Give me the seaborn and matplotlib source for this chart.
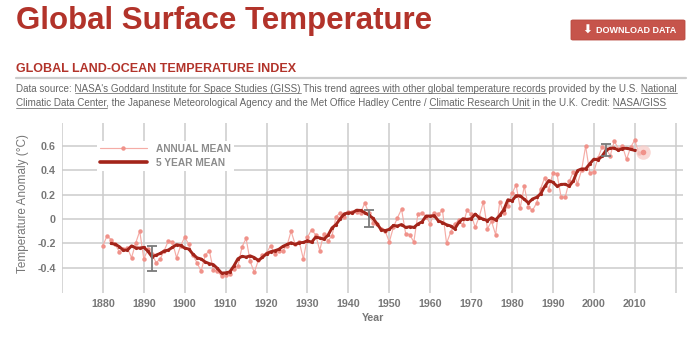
import numpy as np
import pandas as pd
import matplotlib
matplotlib.use("Agg")
import matplotlib.pyplot as plt
import seaborn as sns
from matplotlib.lines import Line2D
from matplotlib.patches import FancyBboxPatch

# ---------------- data ----------------
years = list(range(1880, 2013))
annual = [
    -0.22, -0.14, -0.17, -0.21, -0.27, -0.25, -0.24, -0.32, -0.20, -0.10,   # 1880s
    -0.33, -0.25, -0.29, -0.36, -0.33, -0.26, -0.18, -0.19, -0.32, -0.22,   # 1890s
    -0.15, -0.21, -0.30, -0.36, -0.43, -0.30, -0.26, -0.42, -0.43, -0.47,   # 1900s
    -0.46, -0.45, -0.41, -0.39, -0.23, -0.16, -0.35, -0.44, -0.34, -0.30,   # 1910s
    -0.28, -0.22, -0.29, -0.26, -0.26, -0.22, -0.10, -0.21, -0.19, -0.33,   # 1920s
    -0.15, -0.09, -0.13, -0.26, -0.12, -0.18, -0.14, 0.02, 0.05, 0.02,      # 1930s
    0.06, 0.06, 0.06, 0.05, 0.13, 0.05, -0.03, -0.04, -0.08, -0.10,         # 1940s
    -0.19, -0.07, 0.01, 0.08, -0.12, -0.13, -0.19, 0.04, 0.05, 0.02,        # 1950s
    -0.04, 0.05, 0.04, 0.07, -0.20, -0.11, -0.04, -0.01, -0.05, 0.07,       # 1960s
    0.04, -0.07, 0.02, 0.14, -0.08, -0.02, -0.13, 0.14, 0.05, 0.11,         # 1970s
    0.21, 0.28, 0.09, 0.27, 0.10, 0.07, 0.13, 0.25, 0.34, 0.24,             # 1980s
    0.38, 0.37, 0.18, 0.18, 0.31, 0.39, 0.29, 0.40, 0.60, 0.38,             # 1990s
    0.39, 0.50, 0.59, 0.58, 0.52, 0.64, 0.58, 0.60, 0.49, 0.59,             # 2000s
    0.65, 0.54, 0.55,                                                       # 2010-2012
]
err_years = [1892, 1945, 2003]
err_centers = [-0.325, 0.005, 0.57]
err_half = [0.10, 0.07, 0.05]

x_grid = list(range(1870, 2021, 10))
x_labels = [str(y) if 1880 <= y <= 2010 else "" for y in x_grid]
y_ticks = [-0.4, -0.2, 0.0, 0.2, 0.4, 0.6]
y_labels = ["-0.4", "-0.2", "0", "0.2", "0.4", "0.6"]
legend_labels = ["ANNUAL MEAN", "5 YEAR MEAN"]

df = pd.DataFrame({"Year": years, "Anomaly": annual})
df["Mean5"] = df["Anomaly"].rolling(5, center=True).mean()

# ---------------- style ----------------
sns.set_theme(style="whitegrid")
plt.rcParams['font.family'] = ['Liberation Sans', 'DejaVu Sans']

RED = "#b2332a"
GRAY = "#777777"
ANN_LINE = "#f5aca6"
ANN_MK = "#f0928a"
MEAN5 = "#a3241a"

W, H = 700, 339
fig = plt.figure(figsize=(W / 100, H / 100), dpi=100)
fig.patch.set_facecolor("white")


def fx(px):
    return px / W


def fy(py):
    return 1 - py / H


renderer = fig.canvas.get_renderer()


def text_w(s, **kw):
    t = fig.text(0, 0, s + "|", **kw)
    w = t.get_window_extent(renderer).width
    t.remove()
    t2 = fig.text(0, 0, "|", **kw)
    w2 = t2.get_window_extent(renderer).width
    t2.remove()
    return w - w2


# ---------------- header ----------------
fig.text(fx(16), fy(29.5), "Global Surface Temperature", fontsize=22.5,
         fontweight="bold", color=RED, va="baseline", ha="left")

# download button
fig.patches.append(FancyBboxPatch((fx(571), fy(40)), fx(114), 20 / H,
                                  boxstyle="round,pad=0,rounding_size=0.003",
                                  transform=fig.transFigure, facecolor="#c6544b",
                                  edgecolor="#b9493f", linewidth=0.6))
fig.text(fx(582), fy(30.5), "⬇", fontsize=8.5, fontweight="bold",
         family=["DejaVu Sans"], color="white", ha="left", va="center")
fig.text(fx(596), fy(30.5), "DOWNLOAD DATA", fontsize=6.5, fontweight="bold",
         color="white", ha="left", va="center")

# subtitle (fit to width)
sub = "GLOBAL LAND-OCEAN TEMPERATURE INDEX"
w8 = text_w(sub, fontsize=8, fontweight="bold")
sub_size = 8 * 280 / w8
fig.text(fx(16), fy(71.7), sub, fontsize=sub_size, fontweight="bold",
         color=RED, va="baseline", ha="left")
fig.add_artist(Line2D([fx(16), fx(686)], [fy(78), fy(78)], transform=fig.transFigure,
                      color="#cccccc", lw=1.6))

# data source lines with underlined links
line1 = [("Data source: ", False), ("NASA's Goddard Institute for Space Studies (GISS)", True),
         (" This trend ", False), ("agrees with other global temperature records", True),
         (" provided by the U.S. ", False), ("National", True)]
line2 = [("Climatic Data Center", True),
         (", the Japanese Meteorological Agency and the Met Office Hadley Centre / ", False),
         ("Climatic Research Unit", True), (" in the U.K. Credit: ", False), ("NASA/GISS", True)]

full1 = "".join(s for s, _ in line1)
w7 = text_w(full1, fontsize=7)
src_size = 7 * 665 / w7


def draw_line(segs, base_y):
    full = "".join(s for s, _ in segs)
    fig.text(fx(16), fy(base_y), full, fontsize=src_size, color="#666666",
             va="baseline", ha="left")
    prefix = ""
    for s, u in segs:
        if u:
            x0 = 16 + (text_w(prefix, fontsize=src_size) if prefix else 0)
            x1 = 16 + text_w(prefix + s, fontsize=src_size)
            fig.add_artist(Line2D([fx(x0), fx(x1)], [fy(base_y + 1.6)] * 2,
                                  transform=fig.transFigure, color="#777777", lw=0.6))
        prefix += s


draw_line(line1, 91.5)
draw_line(line2, 106)

# ---------------- chart ----------------
ax = fig.add_axes([fx(62), fy(293), fx(683) - fx(62), fy(123) - fy(293)])
ax.set_facecolor("white")

sns.lineplot(data=df, x="Year", y="Anomaly", ax=ax, color=ANN_LINE, lw=0.85,
             marker="o", markersize=3.2, markerfacecolor=ANN_MK, markeredgewidth=0,
             zorder=3)
sns.lineplot(data=df, x="Year", y="Mean5", ax=ax, color=MEAN5, lw=2.1,
             marker="o", markersize=2.3, markeredgewidth=0, zorder=4)

# highlight latest year
ax.scatter([years[-1]], [annual[-1]], s=110, color="#f8cbc7", alpha=0.75,
           linewidths=0, zorder=5)
ax.scatter([years[-1]], [annual[-1]], s=16, color=ANN_MK, linewidths=0, zorder=6)

ax.errorbar(err_years, err_centers, yerr=err_half, fmt="none", ecolor="#7a7a7a",
            elinewidth=1.3, capsize=3.6, capthick=1.3, zorder=7)

ax.set_xlim(1870, 2021.8)
ax.set_ylim(-0.61, 0.79)
ax.set_xticks(x_grid)
ax.set_xticklabels(x_labels)
ax.set_yticks(y_ticks)
ax.set_yticklabels(y_labels)
ax.grid(True, color="#cccccc", lw=1.1)
for sp in ax.spines.values():
    sp.set_visible(False)
ax.tick_params(axis="both", length=0, labelsize=7.7, labelcolor=GRAY)
ax.tick_params(axis="y", pad=4.5)
ax.tick_params(axis="x", pad=4.0)
for lab in ax.get_xticklabels() + ax.get_yticklabels():
    lab.set_fontweight("bold")

ax.set_xlabel("Year", fontsize=7.7, fontweight="bold", color=GRAY)
ax.set_ylabel("Temperature Anomaly (°C)", fontsize=8.5, color=GRAY)
ax.xaxis.set_label_coords(0.5008, -0.118)
ax.xaxis.label.set_verticalalignment("top")
ax.yaxis.set_label_coords(-0.0633, 0.526)
ax.yaxis.label.set_verticalalignment("center")

h1 = Line2D([], [], color=ANN_LINE, lw=0.85, marker="o", markersize=3.2,
            markerfacecolor=ANN_MK, markeredgewidth=0)
h2 = Line2D([], [], color=MEAN5, lw=2.6)
leg = ax.legend([h1, h2], legend_labels, loc="upper left",
                bbox_to_anchor=(fx(97), fy(141)), bbox_transform=fig.transFigure,
                frameon=True, facecolor="white", edgecolor="none", framealpha=1,
                fancybox=False, handlelength=4.6, handletextpad=0.9,
                labelspacing=0.35, borderpad=0.3, borderaxespad=0,
                prop={"weight": "bold", "size": 7.3})
for t in leg.get_texts():
    t.set_color("#8c8c8c")

fig.savefig("out.png", dpi=100, facecolor="white")
